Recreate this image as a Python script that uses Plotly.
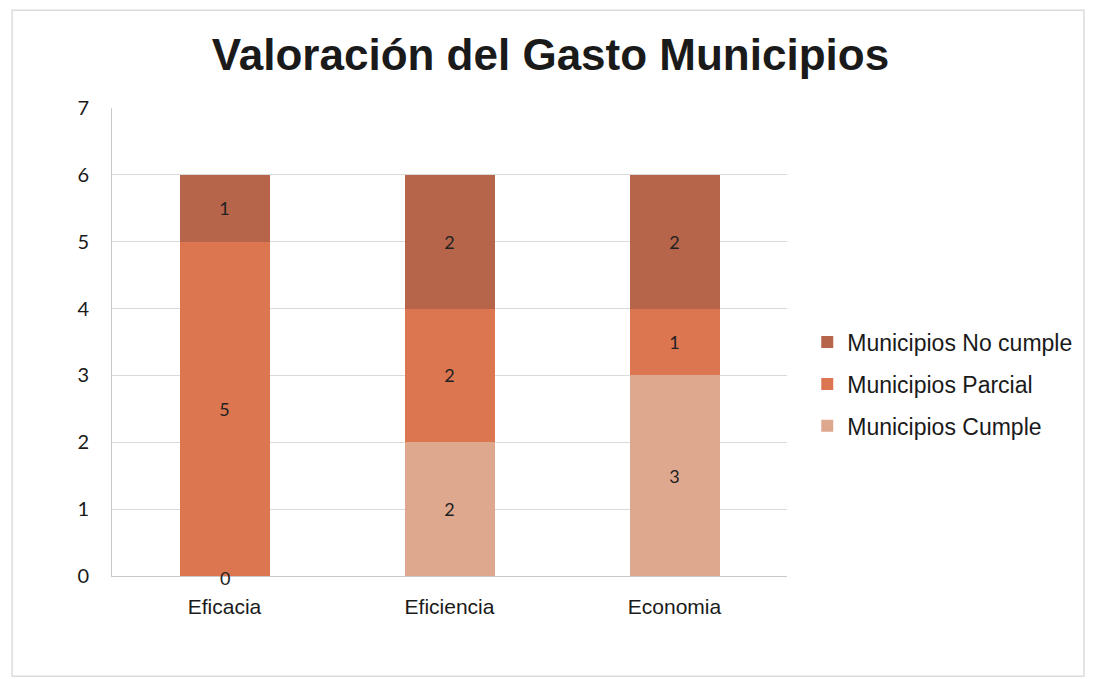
import plotly.graph_objects as go

# categorias y valores
categorias = ["Eficacia", "Eficiencia", "Economia"]
cumple = [0, 2, 3]
parcial = [5, 2, 1]
no_cumple = [1, 2, 2]

series = [
    ("Municipios Cumple", cumple, "#DEA88F", 3),
    ("Municipios Parcial", parcial, "#DB7650", 2),
    ("Municipios No cumple", no_cumple, "#B6654A", 1),
]

label_font = dict(family="Lato, Liberation Sans, sans-serif", size=18, color="#222222")

fig = go.Figure()
for nombre, valores, color, rank in series:
    fig.add_trace(go.Bar(
        x=categorias, y=valores, name=nombre, legendgroup=nombre, legendrank=rank,
        marker=dict(color=color, line=dict(width=0)),
        text=[str(v) if v else "" for v in valores],
        textposition="inside", insidetextanchor="middle",
        textfont=label_font,
    ))
    # etiquetas de valor cero (quedan sobre la base)
    for cat, v in zip(categorias, valores):
        if v == 0:
            fig.add_annotation(x=cat, y=v, text=str(v), showarrow=False, yshift=-2,
                               font=label_font)

# la pagina deja 8px de margen en el body
fig.update_layout(
    barmode="stack",
    bargap=0.6,
    width=1085, height=671,
    margin=dict(l=104, r=306, t=100, b=103),
    paper_bgcolor="white", plot_bgcolor="white",
    title=dict(text="<b>Valoración del Gasto Municipios</b>", x=0.5, xanchor="center",
               y=0.93, yanchor="middle",
               font=dict(family="Liberation Sans, Arial, sans-serif", size=44, color="#1a1a1a")),
    legend=dict(x=1.03, xanchor="left", y=0.41, yanchor="middle",
                traceorder="grouped", tracegroupgap=9,
                font=dict(family="Liberation Sans, Arial, sans-serif", size=23, color="#1a1a1a"),
                bgcolor="rgba(0,0,0,0)"),
    showlegend=True,
)
fig.update_yaxes(range=[0, 7], dtick=1, showgrid=True, gridcolor="#dadada", gridwidth=1,
                 showline=True, linecolor="#c8c8c8", zeroline=False, ticks="",
                 ticklabelstandoff=18,
                 tickfont=dict(family="Lato, Liberation Sans, sans-serif", size=20, color="#1a1a1a"))
fig.update_xaxes(showline=True, linecolor="#c8c8c8", ticks="", ticklabelstandoff=12,
                 tickfont=dict(family="Liberation Sans, Arial, sans-serif", size=21, color="#1a1a1a"))

# marco de la tarjeta
fig.add_shape(type="rect", xref="paper", yref="paper", x0=-0.148, x1=1.44, y0=-0.214, y1=1.209,
              line=dict(color="#dcdcdc", width=1.5), layer="below")

fig.write_html("out.html")
